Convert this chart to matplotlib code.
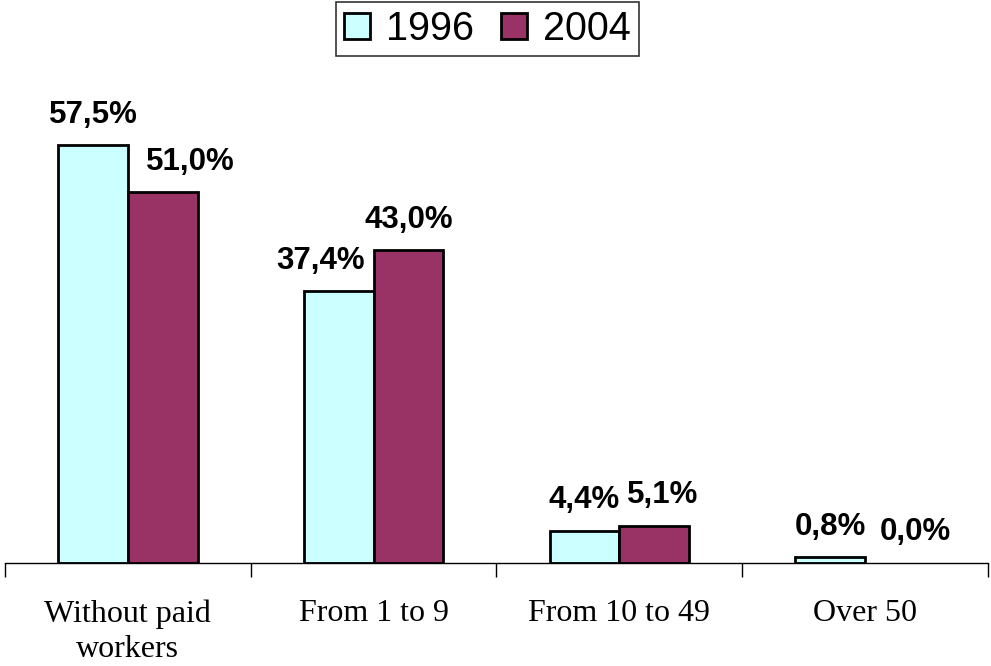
import matplotlib.pyplot as plt
import numpy as np

categories = ["Without paid\nworkers", "From 1 to 9", "From 10 to 49", "Over 50"]
series_names = ["1996", "2004"]
values_1996 = [57.5, 37.4, 4.4, 0.8]
values_2004 = [51.0, 43.0, 5.1, 0.0]
labels_1996 = ["57,5%", "37,4%", "4,4%", "0,8%"]
labels_2004 = ["51,0%", "43,0%", "5,1%", "0,0%"]

# label nudges (points) to mimic the original placement
nudge_1996 = [0, -13, 0, 0]
nudge_2004 = [20, 0, 6, 11]

fig = plt.figure(figsize=(9.91, 6.66), dpi=100)
ax = fig.add_axes([0.005, 0.1547, 0.992, 0.6547])

x = np.arange(len(categories))
w = 0.284
b1 = ax.bar(x - w / 2, values_1996, w, color="#CCFFFF", edgecolor="black", linewidth=2, label=series_names[0])
b2 = ax.bar(x + w / 2, values_2004, w, color="#993366", edgecolor="black", linewidth=2, label=series_names[1])
for bar, v in zip(list(b1) + list(b2), values_1996 + values_2004):
    if v == 0:
        bar.set_linewidth(0)

for xi, v, t, dx in zip(x - w / 2, values_1996, labels_1996, nudge_1996):
    ax.annotate(t, (xi, v), xytext=(dx, 22), textcoords="offset points", ha="center", va="center",
                fontsize=22.5, fontweight="bold", family="Liberation Sans", annotation_clip=False)
for xi, v, t, dx in zip(x + w / 2, values_2004, labels_2004, nudge_2004):
    ax.annotate(t, (xi, v), xytext=(dx, 22), textcoords="offset points", ha="center", va="center",
                fontsize=22.5, fontweight="bold", family="Liberation Sans", annotation_clip=False)

ax.set_xlim(-0.5, len(categories) - 0.5)
ax.set_ylim(0, 60)
for s in ["top", "left", "right"]:
    ax.spines[s].set_visible(False)
ax.spines["bottom"].set_linewidth(1)
ax.set_yticks([])
ax.set_xticks(x)
ax.set_xticklabels(categories, family="Liberation Serif", fontsize=23, linespacing=1.3)
ax.tick_params(axis="x", which="major", length=0, pad=26)
ax.set_xticks(np.arange(-0.5, len(categories)), minor=True)
ax.tick_params(axis="x", which="minor", length=10, width=1, direction="out")

leg = fig.legend(handles=[b1, b2], labels=series_names, loc="upper center", bbox_to_anchor=(0.492, 0.997),
                 ncol=2, prop={"family": "Liberation Sans", "size": 28.5},
                 frameon=True, fancybox=False, edgecolor="black", handlelength=0.65, handleheight=0.65,
                 handletextpad=0.42, columnspacing=0.67, borderpad=0.2, borderaxespad=0)
leg.get_frame().set_linewidth(1.2)

fig.savefig("out.png", dpi=100)
